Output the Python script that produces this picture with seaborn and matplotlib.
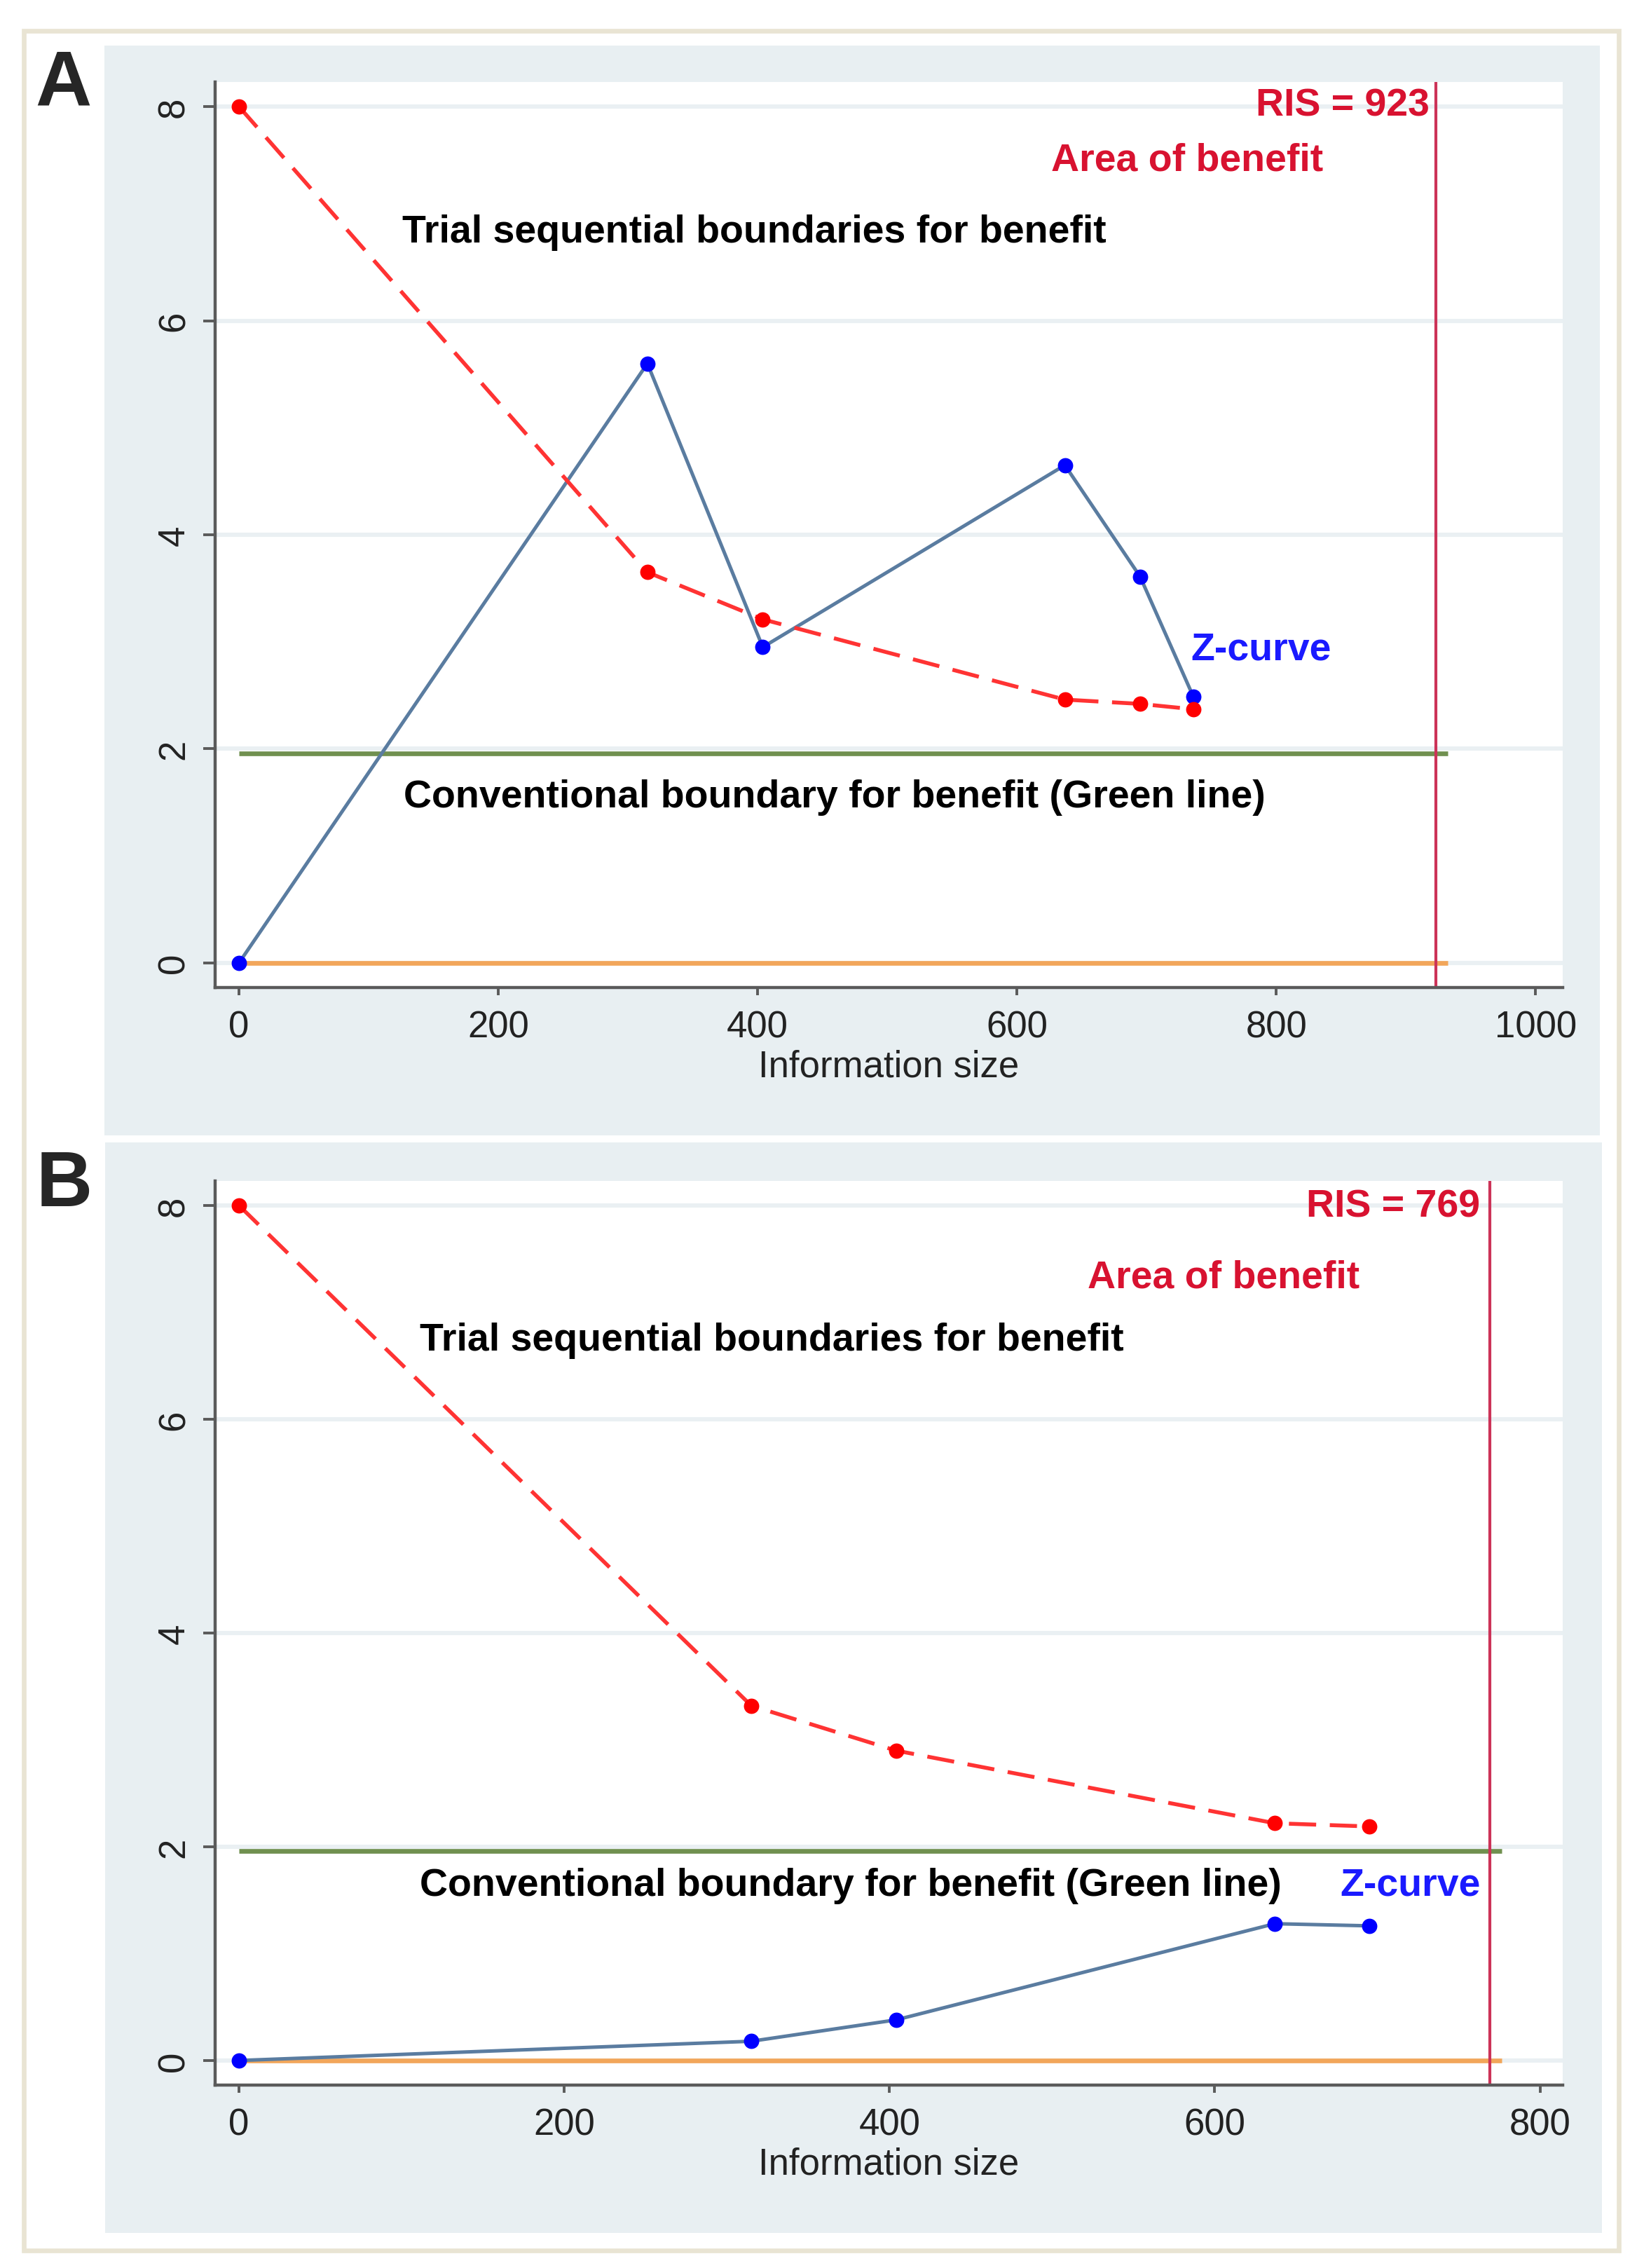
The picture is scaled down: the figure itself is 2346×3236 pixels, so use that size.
import numpy as np
import pandas as pd
import matplotlib
matplotlib.use("Agg")
import matplotlib.pyplot as plt
import seaborn as sns
from matplotlib.patches import Rectangle

# ---- data ----
# panel A
info_a = [0, 315, 404, 637, 695, 736]
bound_a = [8.0, 3.65, 3.21, 2.46, 2.42, 2.37]
zcurve_a = [0.0, 5.60, 2.95, 4.65, 3.61, 2.49]
ris_a = 923

# panel B
info_b = [0, 315, 404, 637, 695]
bound_b = [8.0, 3.32, 2.90, 2.22, 2.19]
zcurve_b = [0.0, 0.18, 0.38, 1.28, 1.26]
ris_b = 769

conv_z = 1.96
yticks = [0, 2, 4, 6, 8]
xticks_a = [0, 200, 400, 600, 800, 1000]
xticks_b = [0, 200, 400, 600, 800]

# colours
BG = "#e8eff2"
STEEL = "#5a7ca0"
RED = "#ff3333"
GREEN = "#70904f"
ORANGE = "#f2a65a"
CRIMSON_TXT = "#d81230"
CRIMSON = "#cc3358"
AXC = "#5a5a5a"

sns.set_theme(style="ticks")
plt.rcParams["font.family"] = ["Liberation Sans", "DejaVu Sans"]

W, H = 2346, 3237
fig = plt.figure(figsize=(W / 200, H / 200), dpi=200)
fig.patch.set_facecolor("white")


def frac(x0, y0, x1, y1):
    # pixel box (top-left origin) -> figure fraction [l, b, w, h]
    return [x0 / W, 1 - y1 / H, (x1 - x0) / W, (y1 - y0) / H]


def rect(x0, y0, x1, y1, **kw):
    l, b, w, h = frac(x0, y0, x1, y1)
    fig.add_artist(Rectangle((l, b), w, h, transform=fig.transFigure, zorder=-10, **kw))


rect(34, 45, 2310, 3212, facecolor="white", edgecolor="#e9e4d3", lw=2.4)
rect(149, 66, 2283, 1621, facecolor=BG, edgecolor="none")
rect(150, 1631, 2286, 3187, facecolor=BG, edgecolor="none")


def draw_panel(ax, info, bound, zcurve, ris, xticks, xlim, texts):
    df = pd.DataFrame({"info": info, "bound": bound, "z": zcurve})
    ax.set_facecolor("white")
    ax.hlines(0, 0, ris * 1.01, color=ORANGE, lw=2.4, zorder=2)
    ax.hlines(conv_z, 0, ris * 1.01, color=GREEN, lw=2.4, zorder=2)
    ax.axvline(ris, color=CRIMSON, lw=1.5, zorder=2)

    sns.lineplot(data=df, x="info", y="z", ax=ax, color=STEEL, lw=1.8, zorder=3)
    sns.scatterplot(data=df, x="info", y="z", ax=ax, color="#0000ff", s=62,
                    linewidth=0, zorder=4)
    sns.lineplot(data=df, x="info", y="bound", ax=ax, color=RED, lw=2.0,
                 linestyle=(0, (7, 3.5)), zorder=3)
    sns.scatterplot(data=df, x="info", y="bound", ax=ax, color="#ff0000", s=62,
                    linewidth=0, zorder=4)

    ax.set_xlim(*xlim)
    ax.set_ylim(-0.23, 8.23)
    ax.set_xticks(xticks)
    ax.set_yticks(yticks)
    ax.yaxis.grid(True, color="#eaf0f3", lw=2.2, zorder=0)
    ax.xaxis.grid(False)
    ax.set_axisbelow(True)

    for s in ["top", "right"]:
        ax.spines[s].set_visible(False)
    for s in ["left", "bottom"]:
        ax.spines[s].set_color(AXC)
        ax.spines[s].set_linewidth(1.6)
    ax.tick_params(axis="y", labelrotation=90, length=6, width=1.4, color=AXC,
                   pad=6, labelsize=19, labelcolor="#222222")
    ax.tick_params(axis="x", length=4, width=1.4, color=AXC, pad=7.5,
                   labelsize=19, labelcolor="#222222")
    for lab in ax.get_yticklabels():
        lab.set_verticalalignment("center")
    ax.set_xlabel("Information size", fontsize=19, color="#222222", labelpad=2)
    ax.set_ylabel("")

    for x, y, s, c, ha in texts:
        ax.text(x, y, s, color=c, ha=ha, va="center", fontsize=20,
                fontweight="bold", zorder=5)


ax_a = fig.add_axes(frac(307, 118, 2230, 1410))
draw_panel(ax_a, info_a, bound_a, zcurve_a, ris_a, xticks_a, (-18.4, 1021), [
    (918, 8.01, f"RIS = {ris_a}", CRIMSON_TXT, "right"),
    (836, 7.50, "Area of benefit", CRIMSON_TXT, "right"),
    (126, 6.83, "Trial sequential boundaries for benefit", "black", "left"),
    (734, 2.93, "Z-curve", "#1a1aff", "left"),
    (127, 1.55, "Conventional boundary for benefit (Green line)", "black", "left"),
])

ax_b = fig.add_axes(frac(307, 1686, 2230, 2976))
draw_panel(ax_b, info_b, bound_b, zcurve_b, ris_b, xticks_b, (-14.7, 814), [
    (763, 7.99, f"RIS = {ris_b}", CRIMSON_TXT, "right"),
    (689, 7.33, "Area of benefit", CRIMSON_TXT, "right"),
    (111, 6.74, "Trial sequential boundaries for benefit", "black", "left"),
    (111, 1.64, "Conventional boundary for benefit (Green line)", "black", "left"),
    (677, 1.64, "Z-curve", "#1a1aff", "left"),
])

fig.text(50 / W, 1 - 122 / H, "A", fontsize=40, fontweight="bold", ha="left", va="center")
fig.text(52 / W, 1 - 1692 / H, "B", fontsize=40, fontweight="bold", ha="left", va="center")

fig.savefig("out.png", dpi=200)
